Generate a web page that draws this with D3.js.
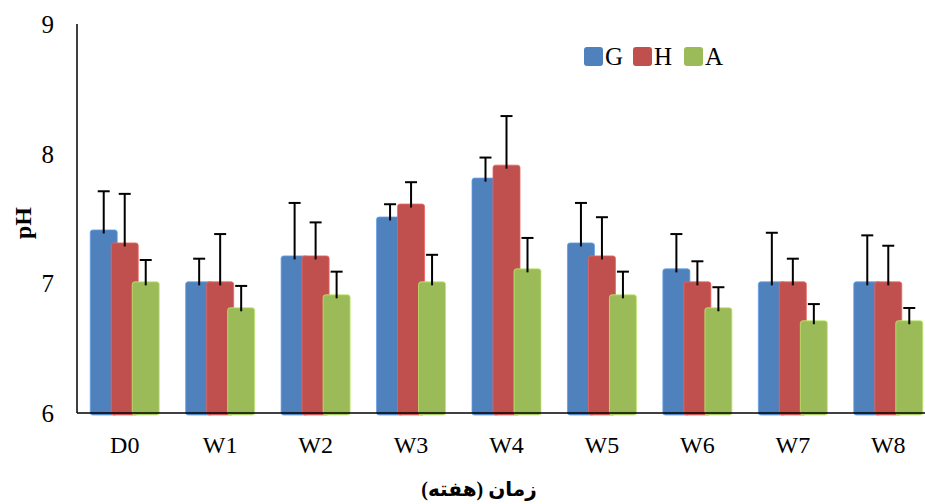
<!DOCTYPE html>
<html><head><meta charset="utf-8">
<script src="https://cdn.jsdelivr.net/npm/d3@7"></script>
<style>body{margin:0;background:#fff}svg{display:block}</style>
</head><body>
<svg id="c" width="925" height="504"></svg>
<script>
const categories = ["D0","W1","W2","W3","W4","W5","W6","W7","W8"];
const seriesNames = ["G","H","A"];
const valuesG = [7.4, 7.0, 7.2, 7.5, 7.8, 7.3, 7.1, 7.0, 7.0];
const valuesH = [7.3, 7.0, 7.2, 7.6, 7.9, 7.2, 7.0, 7.0, 7.0];
const valuesA = [7.0, 6.8, 6.9, 7.0, 7.1, 6.9, 6.8, 6.7, 6.7];
const errG = [0.31, 0.19, 0.42, 0.11, 0.17, 0.32, 0.28, 0.39, 0.37];
const errH = [0.39, 0.38, 0.27, 0.18, 0.39, 0.31, 0.17, 0.19, 0.29];
const errA = [0.18, 0.18, 0.19, 0.22, 0.25, 0.19, 0.17, 0.14, 0.11];
const yTicks = [6, 7, 8, 9];
const colors = ["#4F81BD", "#C0504D", "#9BBB59"];

(function(){
const series = [
  {name: seriesNames[0], values: valuesG, err: errG},
  {name: seriesNames[1], values: valuesH, err: errH},
  {name: seriesNames[2], values: valuesA, err: errA}
];

const svg = d3.select("#c");
const font = "'Liberation Serif','Times New Roman','DejaVu Sans',serif";
const mLeft = 77, mRight = 936, mTop = 24, mBottom = 413;

const x = d3.scaleBand().domain(categories).range([mLeft, mRight]).padding(0);
const y = d3.scaleLinear().domain([6, 9]).range([mBottom, mTop]);
const barW = 27, barStep = 21;

const g = svg.append("g");
series.forEach((s, si) => {
  const cx = c => x(c) + x.bandwidth()/2 + (si - 1) * barStep;
  g.selectAll(".bar" + si).data(categories).enter().append("rect")
    .attr("x", c => cx(c) - barW/2)
    .attr("y", (c, i) => y(s.values[i]) - 1.5)
    .attr("width", barW)
    .attr("height", (c, i) => y(6) - y(s.values[i]) + 3.5)
    .attr("rx", 2.5)
    .attr("fill", colors[si])
    .attr("stroke", d3.color(colors[si]).brighter(0.6))
    .attr("stroke-width", 0.8);
});
series.forEach((s, si) => {
  const cx = c => x(c) + x.bandwidth()/2 + (si - 1) * barStep;
  categories.forEach((c, i) => {
    const xc = cx(c);
    const y0 = y(s.values[i]) + 2, y1 = y(s.values[i] + s.err[i]);
    g.append("line").attr("x1", xc).attr("x2", xc).attr("y1", y0).attr("y2", y1)
      .attr("stroke", "#000").attr("stroke-width", 2);
    g.append("line").attr("x1", xc - 6).attr("x2", xc + 6).attr("y1", y1).attr("y2", y1)
      .attr("stroke", "#000").attr("stroke-width", 2);
  });
});

svg.append("line").attr("x1", mLeft).attr("x2", mLeft).attr("y1", mTop).attr("y2", mBottom)
  .attr("stroke", "#000").attr("stroke-width", 1.5);
svg.append("line").attr("x1", mLeft).attr("x2", 925).attr("y1", mBottom).attr("y2", mBottom)
  .attr("stroke", "#000").attr("stroke-width", 1.5);

svg.selectAll(".yt").data(yTicks).enter().append("text")
  .attr("x", 54).attr("y", d => y(d) + 9)
  .attr("text-anchor", "end").attr("font-family", font).attr("font-size", 25)
  .text(d => d);

svg.selectAll(".xt").data(categories).enter().append("text")
  .attr("x", c => x(c) + x.bandwidth()/2).attr("y", 453)
  .attr("text-anchor", "middle").attr("font-family", font).attr("font-size", 24)
  .text(c => c);

svg.append("text").attr("transform", "translate(31,223) rotate(-90)")
  .attr("text-anchor", "middle").attr("font-family", font).attr("font-size", 24)
  .attr("font-weight", "bold").text("pH");

svg.append("text").attr("x", 479).attr("y", 496)
  .attr("text-anchor", "middle").attr("font-family", font).attr("font-size", 20)
  .attr("font-weight", "bold").attr("direction", "rtl").text("زمان (هفته)");

const legX = [584, 633, 684];
series.forEach((s, si) => {
  svg.append("rect").attr("x", legX[si]).attr("y", 47).attr("width", 19).attr("height", 19)
    .attr("rx", 3).attr("fill", colors[si]);
  svg.append("text").attr("x", legX[si] + 21).attr("y", 65)
    .attr("font-family", font).attr("font-size", 25).text(s.name);
});
})();
</script>
</body></html>
